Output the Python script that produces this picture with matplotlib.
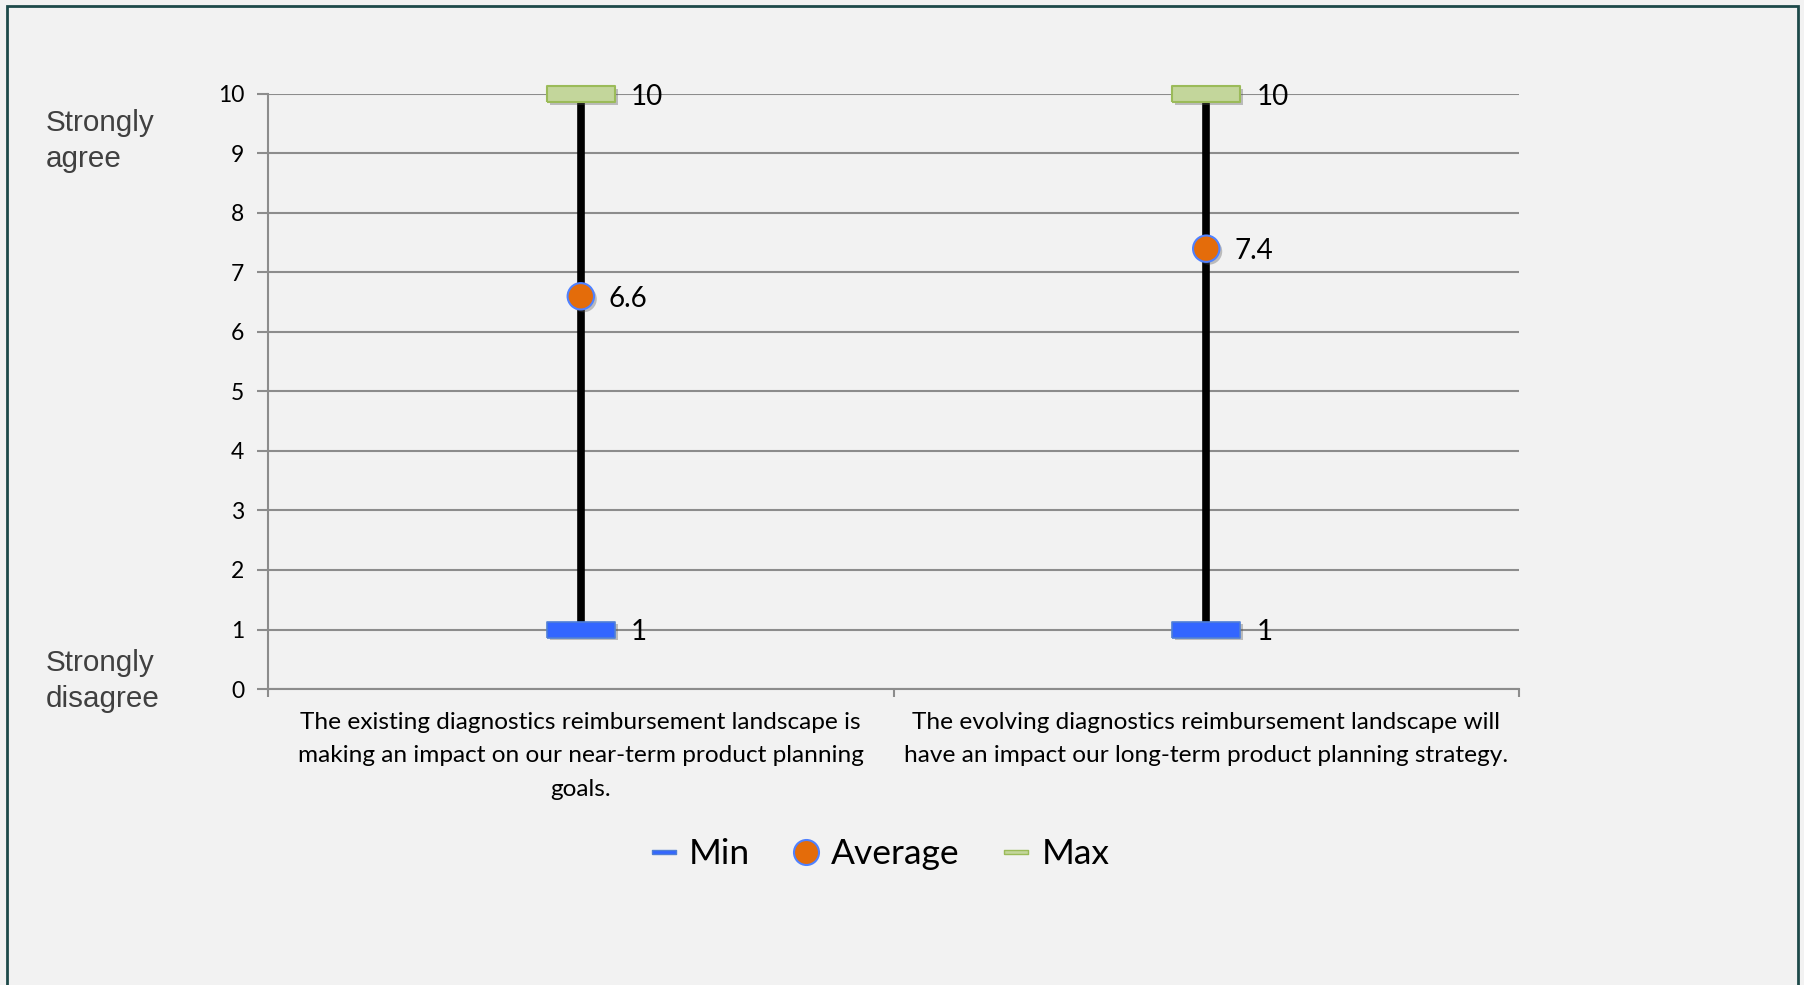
import matplotlib
matplotlib.use('Agg')
import matplotlib.pyplot as plt
import matplotlib.patheffects as pe
from matplotlib.lines import Line2D
from matplotlib.patches import Rectangle

# Survey statements and score ranges
categories = [
    'The existing diagnostics reimbursement landscape is\n'
    'making an impact on our near-term product planning\ngoals.',
    'The evolving diagnostics reimbursement landscape will\n'
    'have an impact our long-term product planning strategy.',
]
min_vals = [1, 1]
avg_vals = [6.6, 7.4]
max_vals = [10, 10]
y_ticks = list(range(0, 11))

BG = '#f2f2f2'
GRID = '#8c8c8c'
BLUE = '#3366ff'
BLUE_EDGE = '#4f7fd6'
GREEN = '#c3d69b'
GREEN_EDGE = '#9bbb59'
ORANGE = '#e46c0a'
CAL = ['Lato', 'DejaVu Sans']

# flat rectangle marker for min / max
bar_marker = [(-1, -0.235), (1, -0.235), (1, 0.235), (-1, 0.235), (-1, -0.235)]
thin_marker = [(-1, -0.2), (1, -0.2), (1, 0.2), (-1, 0.2), (-1, -0.2)]
shadow = [pe.SimplePatchShadow(offset=(2, -2), alpha=0.35, shadow_rgbFace='#555555'),
          pe.Normal()]

fig = plt.figure(figsize=(18.04, 9.85), dpi=100)
fig.patch.set_facecolor(BG)
ax = fig.add_axes([0.1486, 0.3005, 0.842 - 0.1486, 0.9046 - 0.3005])
ax.set_facecolor(BG)

xs = [i + 0.5 for i in range(len(categories))]

# high-low lines
for x, lo, hi in zip(xs, min_vals, max_vals):
    ax.plot([x, x], [lo, hi], color='black', lw=5.5, solid_capstyle='butt',
            zorder=3, clip_on=False)

ax.plot(xs, min_vals, ls='none', marker=bar_marker, markersize=49,
        markerfacecolor=BLUE, markeredgecolor=BLUE_EDGE, markeredgewidth=1.2,
        zorder=4, path_effects=shadow, clip_on=False)
ax.plot(xs, max_vals, ls='none', marker=bar_marker, markersize=49,
        markerfacecolor=GREEN, markeredgecolor=GREEN_EDGE, markeredgewidth=1.5,
        zorder=4, path_effects=shadow, clip_on=False)
ax.plot(xs, avg_vals, ls='none', marker='o', markersize=19,
        markerfacecolor=ORANGE, markeredgecolor='#4f81ff', markeredgewidth=1.5,
        zorder=5, path_effects=shadow, clip_on=False)

# value labels
for x, lo, av, hi in zip(xs, min_vals, avg_vals, max_vals):
    ax.annotate(f'{hi:g}', (x, hi), xytext=(36, -2), textcoords='offset points',
                va='center', ha='left', fontsize=20, family=CAL)
    ax.annotate(f'{lo:g}', (x, lo), xytext=(36, -2), textcoords='offset points',
                va='center', ha='left', fontsize=20, family=CAL)
    ax.annotate(f'{av:g}', (x, av), xytext=(20, -2), textcoords='offset points',
                va='center', ha='left', fontsize=20, family=CAL)

ax.set_xlim(0, len(categories))
ax.set_ylim(0, 10)
ax.set_yticks(y_ticks)
ax.set_yticklabels([str(t) for t in y_ticks], fontsize=16.5, family=CAL)
ax.set_xticks(range(len(categories) + 1))
ax.set_xticklabels([])
ax.tick_params(axis='y', length=8, width=1.5, color=GRID, pad=9)
ax.tick_params(axis='x', length=6, width=1.5, color=GRID, direction='out')
ax.yaxis.grid(True, color=GRID, lw=1.5)
ax.set_axisbelow(True)
for side in ['top', 'right']:
    ax.spines[side].set_visible(False)
for side in ['left', 'bottom']:
    ax.spines[side].set_color(GRID)
    ax.spines[side].set_linewidth(1.5)

for x, label in zip(xs, categories):
    ax.text(x, -0.38, label, ha='center', va='top', fontsize=17.6, family=CAL,
            linespacing=1.75)

# scale end labels
fig.text(46 / 1804, 1 - 141 / 985, 'Strongly\nagree', fontsize=21.3,
         family='Liberation Sans', color='#404040', va='center', ha='left',
         linespacing=1.33)
fig.text(46 / 1804, 1 - 681 / 985, 'Strongly\ndisagree', fontsize=21.3,
         family='Liberation Sans', color='#404040', va='center', ha='left',
         linespacing=1.33)

handles = [
    Line2D([], [], ls='none', marker=thin_marker, markersize=17,
           markerfacecolor=BLUE, markeredgecolor=BLUE_EDGE, label='Min'),
    Line2D([], [], ls='none', marker='o', markersize=18,
           markerfacecolor=ORANGE, markeredgecolor='#4f81ff',
           markeredgewidth=1.5, label='Average'),
    Line2D([], [], ls='none', marker=thin_marker, markersize=17,
           markerfacecolor=GREEN, markeredgecolor=GREEN_EDGE, label='Max'),
]
fig.legend(handles=handles, loc='center', bbox_to_anchor=(0.4875, 1 - 854 / 985),
           ncol=3, frameon=False, prop={'family': CAL, 'size': 25.5},
           handlelength=0.8, handletextpad=0.3, columnspacing=1.2)

# outer frame
fig.patches.append(Rectangle((7 / 1804, -0.02), (1798 - 7) / 1804, 1.014,
                             transform=fig.transFigure, fill=False,
                             edgecolor='#1e4a4a', lw=2))

fig.savefig('out.png', dpi=100, facecolor=BG)
